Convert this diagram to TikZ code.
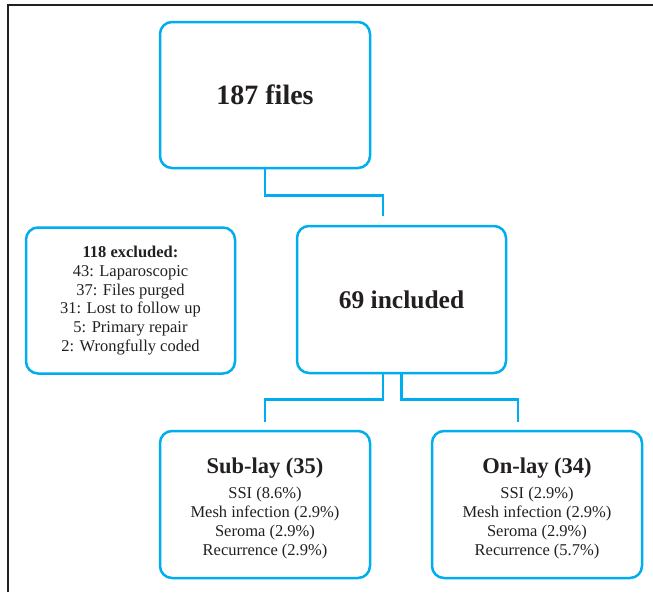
\documentclass[tikz,border=0pt]{standalone}
\usepackage{fontspec}
\setmainfont{Liberation Serif}
\usepackage{tikz}
\definecolor{flowcyan}{HTML}{00AEEF}
\definecolor{ink}{HTML}{231F20}

\begin{document}
\begin{tikzpicture}[x=1pt, y=-1pt,
    box/.style={draw=flowcyan, line width=2.5pt, rounded corners=12pt,
        minimum width=210pt, minimum height=146pt, align=center, text=ink,
        inner sep=0pt, font=\fontsize{16.5}{18.8}\selectfont},
    link/.style={draw=flowcyan, line width=2.5pt}]
            \useasboundingbox (0,0) rectangle (653,592);
            \draw[ink, line width=2pt] (8,592) -- (8,5) -- (653,5);

            \node[box, font=\fontsize{28}{32}\selectfont\bfseries] (F) at (265,95) {187 files};
            \node[box, minimum width=209pt] (X) at (130.5,300.5) {
                \textbf{118 excluded:}\\ 43: Laparoscopic\\ 37: Files purged\\
                31: Lost to follow up\\ 5: Primary repair\\ 2: Wrongfully coded};
            \node[box, minimum width=209pt, minimum height=147pt,
                font=\fontsize{25.5}{30}\selectfont\bfseries] (I) at (401.5,299.5) {69 included};
            \node[box, minimum height=147pt, font=\fontsize{16.5}{19}\selectfont] (S) at (265,504.5) {
                {\fontsize{22.5}{26}\selectfont\bfseries\rule{0pt}{24pt}Sub-lay (35)}\\[6pt]
                SSI (8.6\%)\\ Mesh infection (2.9\%)\\ Seroma (2.9\%)\\ Recurrence (2.9\%)};
            \node[box, minimum height=147pt, font=\fontsize{16.5}{19}\selectfont] (O) at (537,504.5) {
                {\fontsize{22.5}{26}\selectfont\bfseries\rule{0pt}{24pt}On-lay (34)}\\[6pt]
                SSI (2.9\%)\\ Mesh infection (2.9\%)\\ Seroma (2.9\%)\\ Recurrence (5.7\%)};

            \draw[link, shorten >=9pt] (F.south) -- ++(0,26) -| ([xshift=-18.5pt]I.north);
            \draw[link, shorten >=8pt] ([xshift=-18.5pt]I.south) -- ++(0,25) -| (S.north);
            \draw[link, shorten >=8pt] (I.south) -- ++(0,25) -| ([xshift=-19pt]O.north);
        \end{tikzpicture}
\end{document}
